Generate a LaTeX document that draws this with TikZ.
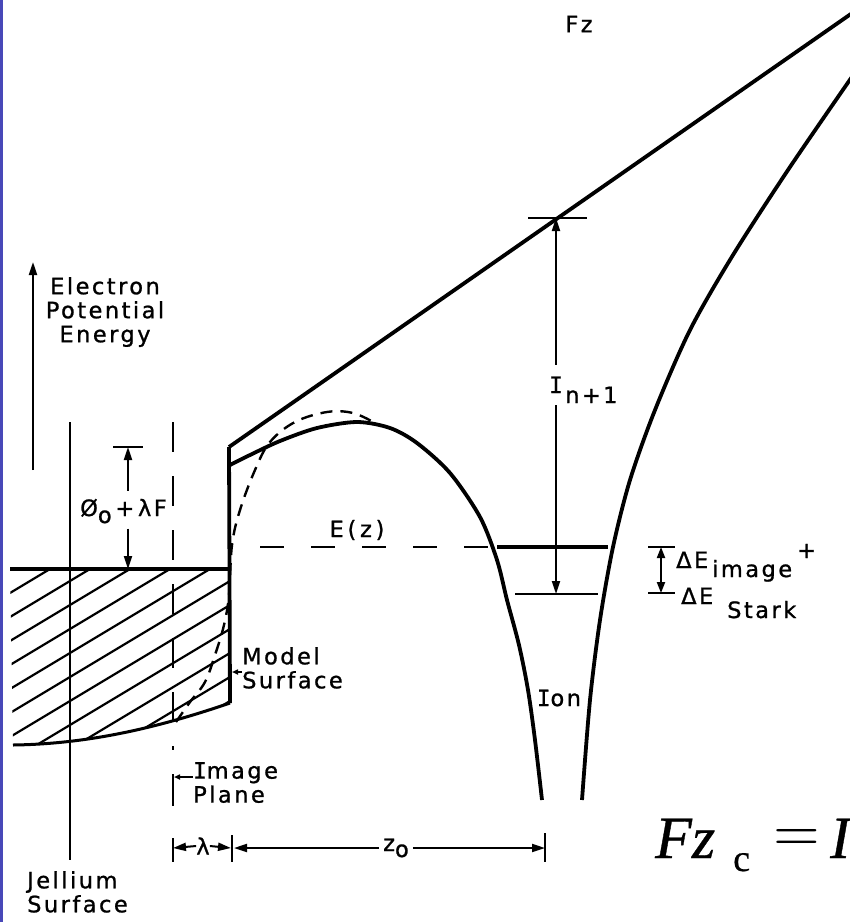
\documentclass[tikz,border=0pt]{standalone}
\usepackage[no-math]{fontspec}
\setmainfont{DejaVu Sans}
\newfontfamily\labfont{DejaVu Sans}[LetterSpace=11,FakeBold=1]
\newfontfamily\ifont{DejaVu Sans Mono}[FakeBold=1]
\newfontfamily\fserif{Liberation Serif}[FakeBold=0.6]
\usetikzlibrary{arrows.meta,calc}
\definecolor{leftblue}{RGB}{72,72,184}
\begin{document}
\begin{tikzpicture}[x=1pt,y=-1pt,
  thickline/.style={line width=3.8pt},
  thinline/.style={line width=2pt},
  dashcurve/.style={line width=2.4pt, dash pattern=on 12pt off 8pt},
  lab/.style={font=\labfont\fontsize{22.5}{24}\selectfont, inner sep=0pt},
  frm/.style={font=\fserif\fontsize{60}{60}\selectfont, inner sep=0pt, anchor=base west},
  arrtip/.style={-{Triangle[length=13pt,width=8pt]}},
  smalltip/.style={-{Triangle[length=11pt,width=8pt]}},
  leadtip/.style={line width=1.5pt,-{Triangle[length=6pt,width=5pt]}}]
\useasboundingbox (0,0) rectangle (850,922);
\fill[white] (0,0) rectangle (850,922);
\fill[leftblue] (0,0) rectangle (3,922);

% energy axis
\coordinate (axB) at (33,470);
\coordinate (axT) at (33,262);
\draw[thinline,arrtip] (axB) -- (axT);
\node[lab,align=center] (epe) at (105,312) {Electron\\Potential\\Energy};

% jellium surface
\coordinate (jT) at (70,422);
\coordinate (jB) at (70,860);
\draw[thinline] (jT) -- (jB);
\node[lab,align=left,anchor=north west] (jel) at (27,871) {Jellium\\Surface};

% image plane
\coordinate (ipT) at (173,422);
\coordinate (ipB) at (173,750);
\draw[line width=2pt,dash pattern=on 30pt off 24pt] (ipT) -- (ipB);

% metal
\coordinate (mTL) at (10,569);
\coordinate (mTR) at (230,569);
\coordinate (mBR) at (230,703);
\coordinate (mBL) at (13,745);
\begin{scope}
\clip (mTL) -- (mTR) -- (mBR) .. controls (160,727) and (90,744) .. (mBL) -- cycle;
\foreach \c in {575,599,...,863} \draw[line width=2.2pt] (0,\c) -- (250,\c-150);
\end{scope}
\draw[thickline] (mTL) -- (mTR);
\draw[line width=3pt] (mBR) .. controls (160,727) and (90,744) .. (mBL);

% step and Fz line
\coordinate (stepT) at (229,447);
\coordinate (fzEnd) at (858,9);
\draw[thickline] (stepT) -- (mBR);
\draw[thickline] (stepT) -- (fzEnd);
\node[lab] (fz) at (579,24) {Fz};

% barrier + ion well
\draw[thickline] plot[smooth,tension=0.5] coordinates {(230,465) (250,455) (280,441) (317,428) (357,422) (390,428) (417,443) (450,473) (480,517) (497,560) (507,600) (519,645) (528,690) (535,740) (542,800)};
\draw[thickline] plot[smooth,tension=0.5] coordinates {(582,800) (590,700) (600,620) (613,547) (630,480) (655,410) (690,330) (733,255) (790,167) (856,71)};
\draw[dashcurve] plot[smooth,tension=0.6] coordinates {(176,722) (190,702) (205,682) (215,655) (224,625) (229,595) (232,545) (240,510) (255,470) (270,442) (295,422) (327,412) (353,413) (375,423)};
\node[lab] (ion) at (559,698) {{\ifont I}on};

% E(z) level
\coordinate (ezL) at (260,547);
\coordinate (ezR) at (495,547);
\draw[line width=2.4pt,dash pattern=on 24pt off 27pt] (ezL) -- (ezR);
\node[lab] (ez) at (357,530) {E\,(\,z\,)};
\coordinate (lvA) at (497,547);
\coordinate (lvB) at (608,547);
\draw[thickline] (lvA) -- (lvB);
\coordinate (llA) at (515,594);
\coordinate (llB) at (598,594);
\draw[thinline] (llA) -- (llB);

% I_{n+1}
\coordinate (iTopL) at (528,218);
\coordinate (iTopR) at (587,218);
\coordinate (iTop) at (556,218);
\coordinate (iBot) at (556,594);
\draw[thinline] (iTopL) -- (iTopR);
\node[lab,text height=16pt,text depth=0pt,inner ysep=12pt,anchor=base] (iln) at (556,393) {\ifont I};
\node[lab,anchor=base west] (isub) at (565,403) {n+1};
\draw[thinline,arrtip] (iln.north) -- (iTop);
\draw[thinline,arrtip] (iln.south) -- (iBot);

% Delta E dimension
\coordinate (deT) at (661,547);
\coordinate (deB) at (661,593);
\coordinate (deM) at (661,570);
\coordinate (deTL) at (648,547);
\coordinate (deTR) at (675,547);
\coordinate (deBL) at (648,593);
\coordinate (deBR) at (675,593);
\draw[thinline] (deTL) -- (deTR);
\draw[thinline] (deBL) -- (deBR);
\draw[thinline,smalltip] (deM) -- (deT);
\draw[thinline,smalltip] (deM) -- (deB);
\node[lab,anchor=base west] (de1) at (676,568) {ΔE};
\node[lab,anchor=base west] (de1s) at (712,577) {image};
\node[lab,anchor=base west] (de1p) at (797,558) {+};
\node[lab,anchor=base west] (de2) at (681,604) {ΔE};
\node[lab,anchor=base west] (de2s) at (727,618) {Stark};

% phi + lambda F
\coordinate (phTL) at (113,447);
\coordinate (phTR) at (143,447);
\coordinate (phT) at (128,447);
\coordinate (phB) at (128,569);
\draw[thinline] (phTL) -- (phTR);
\node[lab,anchor=base west] (phi) at (80,516) {Ø\raisebox{-7pt}{o}\,+\,λF};
\draw[thinline,arrtip] ($(phi.north -| phT)+(0,-8)$) -- (phT);
\draw[thinline,arrtip] ($(phi.south -| phT)+(0,5)$) -- (phB);

% Model surface
\node[lab,align=left,anchor=north west] (ms) at (242,647) {Model\\Surface};
\coordinate (msT) at (232,672);
\draw[leadtip] (ms.west |- msT) -- (msT);

% Image plane label
\node[lab,align=left,anchor=north west] (ip) at (193,762) {{\ifont I}mage\\Plane};
\coordinate (ipL) at (174,777);
\coordinate (ipV1) at (173,774);
\coordinate (ipV2) at (173,806);
\draw[thinline] (ipV1) -- (ipV2);
\draw[leadtip] (ip.west |- ipL) -- (ipL);

% bottom dimensions
\coordinate (lamL) at (173,848);
\coordinate (lamR) at (231,848);
\coordinate (z0L) at (234,848);
\coordinate (z0R) at (545,848);
\draw[thinline] (173,838) coordinate (t1a) -- (173,862) coordinate (t1b);
\draw[thinline] (232,835) coordinate (t2a) -- (232,862) coordinate (t2b);
\draw[thinline] (545,833) coordinate (t3a) -- (545,862) coordinate (t3b);
\node[lab] (lam) at (203,846) {λ};
\draw[thinline,arrtip] (lam.west) -- (lamL);
\draw[thinline,arrtip] (lam.east) -- (lamR);
\node[lab,inner sep=4pt] (z0) at (396,848) {z\raisebox{-6pt}{o}};
\draw[thinline,arrtip] (z0.west) -- (z0L);
\draw[thinline,arrtip] (z0.east) -- (z0R);

% formula (cut at the right edge)
\node[frm] (fFz) at (655,858) {\itshape Fz};
\node[frm,font=\fserif\fontsize{38}{38}\selectfont] (fC) at (733,871) {c};
\node[inner sep=0pt,scale=6,anchor=base] (fEq) at (797,851) {$=$};
\node[frm] (fI) at (830,858) {\itshape I};
\end{tikzpicture}
\end{document}
